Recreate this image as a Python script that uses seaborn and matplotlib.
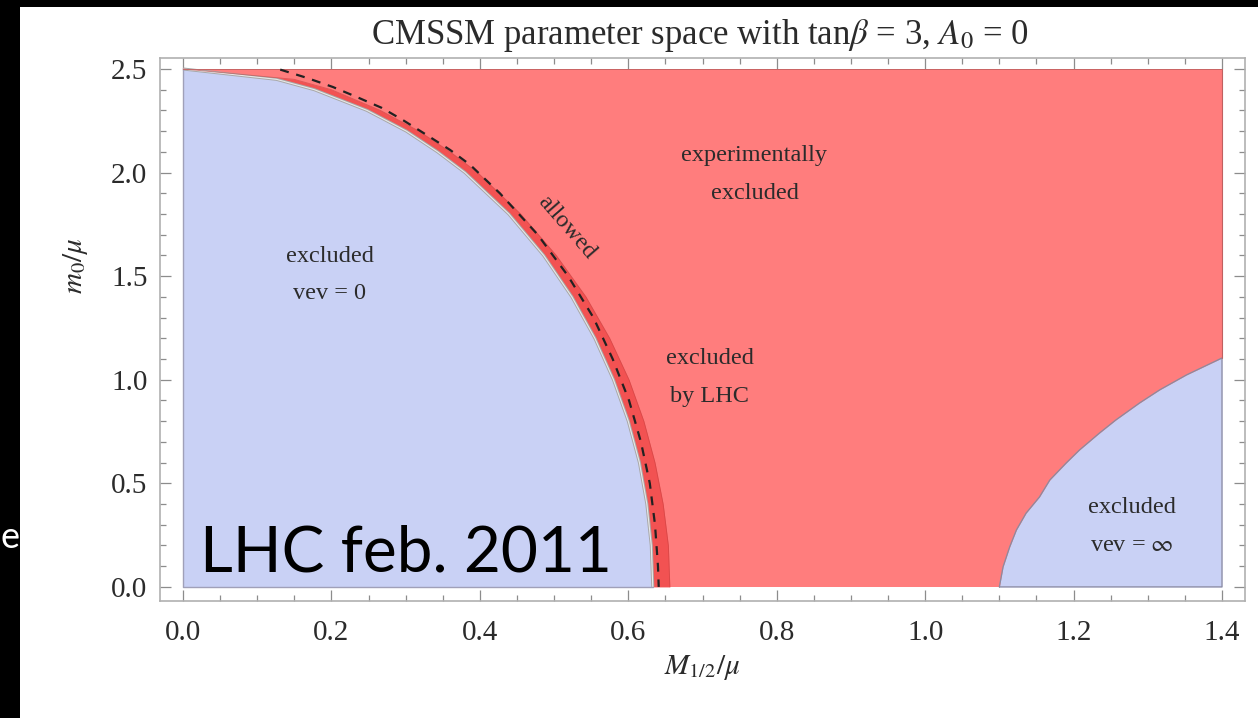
import numpy as np
import matplotlib
matplotlib.use("Agg")
import matplotlib.pyplot as plt
from matplotlib.ticker import MultipleLocator
from matplotlib.patches import Rectangle
import seaborn as sns
import pandas as pd

# ---------------- data ----------------
# m0/mu grid for the left ("vev = 0") region boundary
y_left = [2.5, 2.45, 2.4, 2.3, 2.2, 2.1, 2.0, 1.8, 1.6, 1.4, 1.2, 1.0, 0.8, 0.6, 0.4, 0.2, 0.0]
x_left = [0.0, 0.126, 0.177, 0.248, 0.301, 0.343, 0.380, 0.439, 0.486, 0.524, 0.555, 0.580, 0.600, 0.615, 0.625, 0.631, 0.633]
# outer edge of the narrow "allowed" band
x_band = [0.0, 0.150, 0.200, 0.266, 0.318, 0.360, 0.397, 0.455, 0.503, 0.543, 0.575, 0.601, 0.621, 0.636, 0.647, 0.654, 0.656]
# LHC exclusion (dashed)
y_lhc = [2.497, 2.457, 2.413, 2.365, 2.312, 2.254, 2.18, 2.109, 2.037, 1.9, 1.7, 1.5, 1.3, 1.1, 0.9, 0.7, 0.5, 0.3, 0.1, 0.0]
x_lhc = [0.131, 0.167, 0.202, 0.234, 0.268, 0.296, 0.329, 0.360, 0.387, 0.427, 0.478, 0.519, 0.553, 0.579, 0.601, 0.617, 0.629, 0.636, 0.640, 0.641]
# right ("vev = infinity") region boundary
y_right = [0.0, 0.097, 0.194, 0.275, 0.356, 0.434, 0.516, 0.598, 0.661, 0.743, 0.806, 0.888, 0.951, 1.023, 1.105]
x_right = [1.10, 1.105, 1.114, 1.123, 1.136, 1.154, 1.168, 1.190, 1.208, 1.235, 1.257, 1.289, 1.316, 1.352, 1.40]

x_major = [0.0, 0.2, 0.4, 0.6, 0.8, 1.0, 1.2, 1.4]
y_major = [0.0, 0.5, 1.0, 1.5, 2.0, 2.5]
x_max, y_max = 1.4, 2.5

title = r"CMSSM parameter space with tan$\beta$ = 3, $A_0$ = 0"

RED = "#ff7d7d"
BAND = "#f25252"
BLUE = "#c9d1f5"
TXT = "#2b2b2b"

sns.set_theme(style="white")
plt.rcParams["font.family"] = ["Liberation Serif", "DejaVu Serif"]
plt.rcParams["mathtext.fontset"] = "stix"

fig = plt.figure(figsize=(12.58, 7.18), dpi=100)
fig.patch.set_facecolor("black")
# white slide panel
fig.add_artist(Rectangle((20 / 1258, 0), 1 - 20 / 1258, 1 - 7 / 718,
                         transform=fig.transFigure, facecolor="white",
                         edgecolor="none", zorder=0))

ax = fig.add_axes([160 / 1258, (718 - 601) / 718, 1085 / 1258, 543 / 718])
ax.set_facecolor("white")

# regions
ax.add_patch(Rectangle((0, 0), x_max, y_max, facecolor=RED, edgecolor="none", zorder=1))
ax.fill_betweenx(y_left, x_left, x_band, color=BAND, linewidth=0, zorder=2)
ax.fill_betweenx(y_left, 0, x_left, color=BLUE, linewidth=0, zorder=3)
ax.fill_betweenx(y_right, x_right, x_max, color=BLUE, linewidth=0, zorder=3)

# boundaries
ax.plot(x_left, y_left, color="#a8a8a8", lw=2.2, zorder=4, solid_capstyle="butt")
ax.plot(x_left, y_left, color="#e8e8e8", lw=0.8, zorder=4)
ax.plot([0, 0, x_left[-1]], [y_max, 0, 0], color="#a0a0b8", lw=1.0, zorder=4)
ax.plot(x_band, y_left, color="#c84040", lw=0.6, zorder=4, alpha=0.6)
ax.plot(x_right + [x_max, x_right[0]], y_right + [0, 0], color="#8a8aa0", lw=0.9, zorder=4)
ax.plot([x_max, x_max], [y_right[-1], y_max], color="#c06060", lw=0.8, zorder=4)
ax.plot([0, x_max], [y_max, y_max], color="#c06060", lw=0.6, zorder=4)

lhc = pd.DataFrame({"x": x_lhc, "y": y_lhc})
sns.lineplot(data=lhc, x="x", y="y", sort=False, estimator=None, ax=ax,
             color="#222222", lw=1.6, linestyle=(0, (4, 3.5)), zorder=5)

# axes styling (Mathematica-like frame)
ax.set_xlim(-0.031, 1.431)
ax.set_ylim(-0.068, 2.553)
ax.set_xticks(x_major)
ax.set_yticks(y_major)
ax.set_xticklabels([f"{v:.1f}" for v in x_major])
ax.set_yticklabels([f"{v:.1f}" for v in y_major])
ax.xaxis.set_minor_locator(MultipleLocator(0.05))
ax.yaxis.set_minor_locator(MultipleLocator(0.1))
ax.tick_params(which="both", direction="in", top=True, right=True,
               bottom=True, left=True, color="#8c8c8c", width=0.9,
               labelcolor=TXT, labelsize=21)
ax.tick_params(which="major", length=8)
ax.tick_params(which="minor", length=4.5)
ax.tick_params(axis="x", which="major", pad=14)
ax.tick_params(axis="y", which="major", pad=9)
for s in ax.spines.values():
    s.set_color("#b0b0b0")
    s.set_linewidth(1.2)
ax.set_xlabel("")
ax.set_ylabel("")

fig.text(700 / 1258, 1 - 35 / 718, title, ha="center", va="center",
         fontsize=25, color=TXT)
fig.text(702 / 1258, 1 - 668 / 718, r"$M_{1/2}/\mu$", ha="center", va="center",
         fontsize=21, color=TXT)
fig.text(76 / 1258, 1 - 266 / 718, r"$m_0/\mu$", ha="center", va="center",
         fontsize=21, color=TXT, rotation=90)

# region annotations
kw = dict(ha="center", va="center", fontsize=17.5, color=TXT, zorder=6, linespacing=2.05)
ax.text(0.77, 1.99, "experimentally\nexcluded", **kw)
ax.text(0.198, 1.506, "excluded\nvev = 0", **kw)
ax.text(0.71, 1.009, "excluded\nby LHC", **kw)
ax.text(1.279, 0.29, "excluded\nvev = " + r"$\infty$", **kw)
ax.text(0.517, 1.735, "allowed", ha="center", va="center", fontsize=17.5,
        color=TXT, rotation=-49, zorder=6)

# slide overlay text
fig.text(200 / 1258, 1 - 572 / 718, "LHC feb. 2011", ha="left", va="baseline",
         fontsize=46, color="black", family=["Lato", "DejaVu Sans"], zorder=10)
fig.text(1 / 1258, 1 - 548 / 718, "e", ha="left", va="baseline",
         fontsize=26, color="white", family=["Lato", "DejaVu Sans"], zorder=10)

fig.savefig("out.png", dpi=100, facecolor=fig.get_facecolor())
